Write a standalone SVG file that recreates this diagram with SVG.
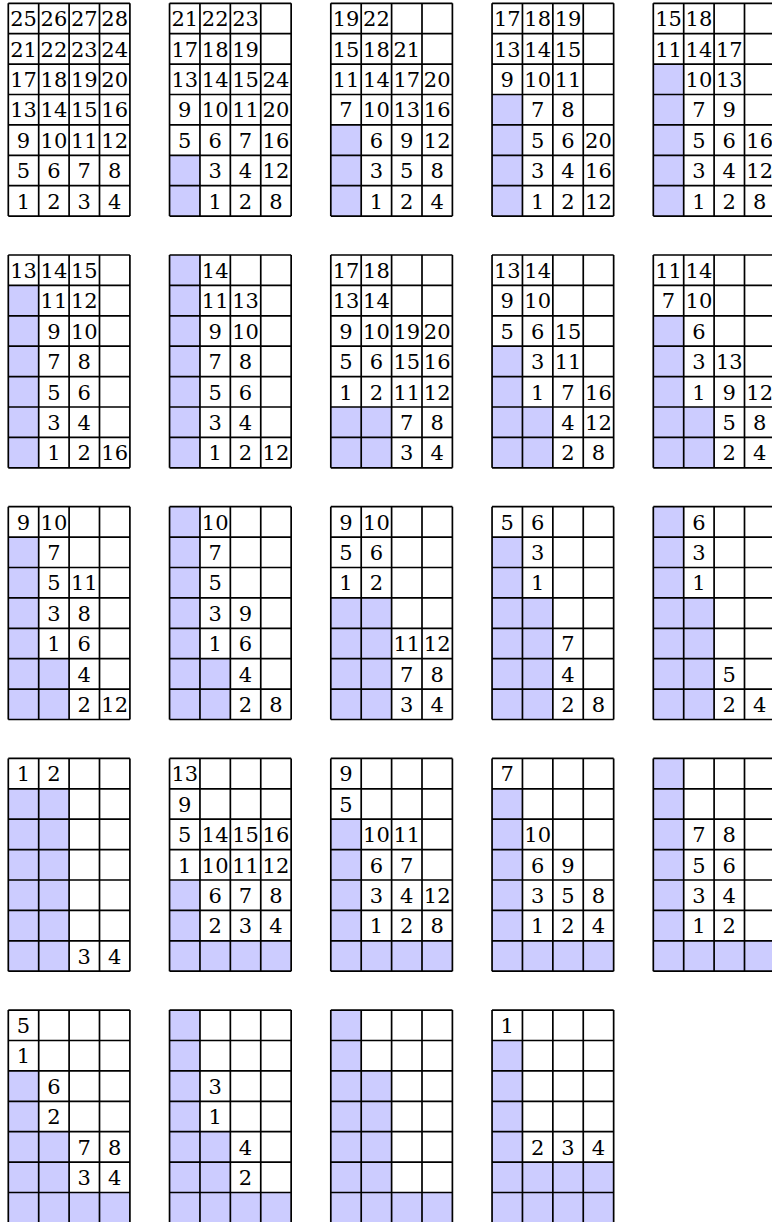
<svg xmlns="http://www.w3.org/2000/svg" xmlns:xlink="http://www.w3.org/1999/xlink" width="772" height="1222" viewBox="0 0 772 1222" font-family="DejaVu Serif, serif" font-size="21">
<style>
.s{fill:#ccccff;stroke:none}
.g{fill:none;stroke:#000;stroke-width:1.7}
.t text{font-family:'DejaVu Serif',serif;font-size:21px;text-anchor:middle;fill:#000}
</style>
<defs>
<path id="grid" class="g" d="M0 0V212.8M30.4 0V212.8M60.8 0V212.8M91.2 0V212.8M121.6 0V212.8M0 0H121.6M0 30.4H121.6M0 60.8H121.6M0 91.2H121.6M0 121.6H121.6M0 152H121.6M0 182.4H121.6M0 212.8H121.6"/>
</defs>
<rect width="772" height="1222" fill="#fff"/>
<g class="t">
<g id="g1" transform="translate(8.3,3.3)">
<use xlink:href="#grid"/>
<text x="15.2" y="23">25</text><text x="45.6" y="23">26</text><text x="76" y="23">27</text><text x="106.4" y="23">28</text>
<text x="15.2" y="53.4">21</text><text x="45.6" y="53.4">22</text><text x="76" y="53.4">23</text><text x="106.4" y="53.4">24</text>
<text x="15.2" y="83.8">17</text><text x="45.6" y="83.8">18</text><text x="76" y="83.8">19</text><text x="106.4" y="83.8">20</text>
<text x="15.2" y="114.2">13</text><text x="45.6" y="114.2">14</text><text x="76" y="114.2">15</text><text x="106.4" y="114.2">16</text>
<text x="15.2" y="144.6">9</text><text x="45.6" y="144.6">10</text><text x="76" y="144.6">11</text><text x="106.4" y="144.6">12</text>
<text x="15.2" y="175">5</text><text x="45.6" y="175">6</text><text x="76" y="175">7</text><text x="106.4" y="175">8</text>
<text x="15.2" y="205.4">1</text><text x="45.6" y="205.4">2</text><text x="76" y="205.4">3</text><text x="106.4" y="205.4">4</text>
</g>
<g id="g2" transform="translate(169.55,3.3)">
<rect class="s" x="0" y="152" width="30.4" height="60.8"/>
<use xlink:href="#grid"/>
<text x="15.2" y="23">21</text><text x="45.6" y="23">22</text><text x="76" y="23">23</text>
<text x="15.2" y="53.4">17</text><text x="45.6" y="53.4">18</text><text x="76" y="53.4">19</text>
<text x="15.2" y="83.8">13</text><text x="45.6" y="83.8">14</text><text x="76" y="83.8">15</text><text x="106.4" y="83.8">24</text>
<text x="15.2" y="114.2">9</text><text x="45.6" y="114.2">10</text><text x="76" y="114.2">11</text><text x="106.4" y="114.2">20</text>
<text x="15.2" y="144.6">5</text><text x="45.6" y="144.6">6</text><text x="76" y="144.6">7</text><text x="106.4" y="144.6">16</text>
<text x="45.6" y="175">3</text><text x="76" y="175">4</text><text x="106.4" y="175">12</text>
<text x="45.6" y="205.4">1</text><text x="76" y="205.4">2</text><text x="106.4" y="205.4">8</text>
</g>
<g id="g3" transform="translate(330.8,3.3)">
<rect class="s" x="0" y="121.6" width="30.4" height="91.2"/>
<use xlink:href="#grid"/>
<text x="15.2" y="23">19</text><text x="45.6" y="23">22</text>
<text x="15.2" y="53.4">15</text><text x="45.6" y="53.4">18</text><text x="76" y="53.4">21</text>
<text x="15.2" y="83.8">11</text><text x="45.6" y="83.8">14</text><text x="76" y="83.8">17</text><text x="106.4" y="83.8">20</text>
<text x="15.2" y="114.2">7</text><text x="45.6" y="114.2">10</text><text x="76" y="114.2">13</text><text x="106.4" y="114.2">16</text>
<text x="45.6" y="144.6">6</text><text x="76" y="144.6">9</text><text x="106.4" y="144.6">12</text>
<text x="45.6" y="175">3</text><text x="76" y="175">5</text><text x="106.4" y="175">8</text>
<text x="45.6" y="205.4">1</text><text x="76" y="205.4">2</text><text x="106.4" y="205.4">4</text>
</g>
<g id="g4" transform="translate(492.05,3.3)">
<rect class="s" x="0" y="91.2" width="30.4" height="121.6"/>
<use xlink:href="#grid"/>
<text x="15.2" y="23">17</text><text x="45.6" y="23">18</text><text x="76" y="23">19</text>
<text x="15.2" y="53.4">13</text><text x="45.6" y="53.4">14</text><text x="76" y="53.4">15</text>
<text x="15.2" y="83.8">9</text><text x="45.6" y="83.8">10</text><text x="76" y="83.8">11</text>
<text x="45.6" y="114.2">7</text><text x="76" y="114.2">8</text>
<text x="45.6" y="144.6">5</text><text x="76" y="144.6">6</text><text x="106.4" y="144.6">20</text>
<text x="45.6" y="175">3</text><text x="76" y="175">4</text><text x="106.4" y="175">16</text>
<text x="45.6" y="205.4">1</text><text x="76" y="205.4">2</text><text x="106.4" y="205.4">12</text>
</g>
<g id="g5" transform="translate(653.3,3.3)">
<rect class="s" x="0" y="60.8" width="30.4" height="152"/>
<use xlink:href="#grid"/>
<text x="15.2" y="23">15</text><text x="45.6" y="23">18</text>
<text x="15.2" y="53.4">11</text><text x="45.6" y="53.4">14</text><text x="76" y="53.4">17</text>
<text x="45.6" y="83.8">10</text><text x="76" y="83.8">13</text>
<text x="45.6" y="114.2">7</text><text x="76" y="114.2">9</text>
<text x="45.6" y="144.6">5</text><text x="76" y="144.6">6</text><text x="106.4" y="144.6">16</text>
<text x="45.6" y="175">3</text><text x="76" y="175">4</text><text x="106.4" y="175">12</text>
<text x="45.6" y="205.4">1</text><text x="76" y="205.4">2</text><text x="106.4" y="205.4">8</text>
</g>
<g id="g6" transform="translate(8.3,255)">
<rect class="s" x="0" y="30.4" width="30.4" height="182.4"/>
<use xlink:href="#grid"/>
<text x="15.2" y="23">13</text><text x="45.6" y="23">14</text><text x="76" y="23">15</text>
<text x="45.6" y="53.4">11</text><text x="76" y="53.4">12</text>
<text x="45.6" y="83.8">9</text><text x="76" y="83.8">10</text>
<text x="45.6" y="114.2">7</text><text x="76" y="114.2">8</text>
<text x="45.6" y="144.6">5</text><text x="76" y="144.6">6</text>
<text x="45.6" y="175">3</text><text x="76" y="175">4</text>
<text x="45.6" y="205.4">1</text><text x="76" y="205.4">2</text><text x="106.4" y="205.4">16</text>
</g>
<g id="g7" transform="translate(169.55,255)">
<rect class="s" x="0" y="0" width="30.4" height="212.8"/>
<use xlink:href="#grid"/>
<text x="45.6" y="23">14</text>
<text x="45.6" y="53.4">11</text><text x="76" y="53.4">13</text>
<text x="45.6" y="83.8">9</text><text x="76" y="83.8">10</text>
<text x="45.6" y="114.2">7</text><text x="76" y="114.2">8</text>
<text x="45.6" y="144.6">5</text><text x="76" y="144.6">6</text>
<text x="45.6" y="175">3</text><text x="76" y="175">4</text>
<text x="45.6" y="205.4">1</text><text x="76" y="205.4">2</text><text x="106.4" y="205.4">12</text>
</g>
<g id="g8" transform="translate(330.8,255)">
<rect class="s" x="0" y="152" width="60.8" height="60.8"/>
<use xlink:href="#grid"/>
<text x="15.2" y="23">17</text><text x="45.6" y="23">18</text>
<text x="15.2" y="53.4">13</text><text x="45.6" y="53.4">14</text>
<text x="15.2" y="83.8">9</text><text x="45.6" y="83.8">10</text><text x="76" y="83.8">19</text><text x="106.4" y="83.8">20</text>
<text x="15.2" y="114.2">5</text><text x="45.6" y="114.2">6</text><text x="76" y="114.2">15</text><text x="106.4" y="114.2">16</text>
<text x="15.2" y="144.6">1</text><text x="45.6" y="144.6">2</text><text x="76" y="144.6">11</text><text x="106.4" y="144.6">12</text>
<text x="76" y="175">7</text><text x="106.4" y="175">8</text>
<text x="76" y="205.4">3</text><text x="106.4" y="205.4">4</text>
</g>
<g id="g9" transform="translate(492.05,255)">
<rect class="s" x="0" y="91.2" width="30.4" height="121.6"/>
<rect class="s" x="30.4" y="152" width="30.4" height="60.8"/>
<use xlink:href="#grid"/>
<text x="15.2" y="23">13</text><text x="45.6" y="23">14</text>
<text x="15.2" y="53.4">9</text><text x="45.6" y="53.4">10</text>
<text x="15.2" y="83.8">5</text><text x="45.6" y="83.8">6</text><text x="76" y="83.8">15</text>
<text x="45.6" y="114.2">3</text><text x="76" y="114.2">11</text>
<text x="45.6" y="144.6">1</text><text x="76" y="144.6">7</text><text x="106.4" y="144.6">16</text>
<text x="76" y="175">4</text><text x="106.4" y="175">12</text>
<text x="76" y="205.4">2</text><text x="106.4" y="205.4">8</text>
</g>
<g id="g10" transform="translate(653.3,255)">
<rect class="s" x="0" y="60.8" width="30.4" height="152"/>
<rect class="s" x="30.4" y="152" width="30.4" height="60.8"/>
<use xlink:href="#grid"/>
<text x="15.2" y="23">11</text><text x="45.6" y="23">14</text>
<text x="15.2" y="53.4">7</text><text x="45.6" y="53.4">10</text>
<text x="45.6" y="83.8">6</text>
<text x="45.6" y="114.2">3</text><text x="76" y="114.2">13</text>
<text x="45.6" y="144.6">1</text><text x="76" y="144.6">9</text><text x="106.4" y="144.6">12</text>
<text x="76" y="175">5</text><text x="106.4" y="175">8</text>
<text x="76" y="205.4">2</text><text x="106.4" y="205.4">4</text>
</g>
<g id="g11" transform="translate(8.3,506.7)">
<rect class="s" x="0" y="30.4" width="30.4" height="182.4"/>
<rect class="s" x="30.4" y="152" width="30.4" height="60.8"/>
<use xlink:href="#grid"/>
<text x="15.2" y="23">9</text><text x="45.6" y="23">10</text>
<text x="45.6" y="53.4">7</text>
<text x="45.6" y="83.8">5</text><text x="76" y="83.8">11</text>
<text x="45.6" y="114.2">3</text><text x="76" y="114.2">8</text>
<text x="45.6" y="144.6">1</text><text x="76" y="144.6">6</text>
<text x="76" y="175">4</text>
<text x="76" y="205.4">2</text><text x="106.4" y="205.4">12</text>
</g>
<g id="g12" transform="translate(169.55,506.7)">
<rect class="s" x="0" y="0" width="30.4" height="212.8"/>
<rect class="s" x="30.4" y="152" width="30.4" height="60.8"/>
<use xlink:href="#grid"/>
<text x="45.6" y="23">10</text>
<text x="45.6" y="53.4">7</text>
<text x="45.6" y="83.8">5</text>
<text x="45.6" y="114.2">3</text><text x="76" y="114.2">9</text>
<text x="45.6" y="144.6">1</text><text x="76" y="144.6">6</text>
<text x="76" y="175">4</text>
<text x="76" y="205.4">2</text><text x="106.4" y="205.4">8</text>
</g>
<g id="g13" transform="translate(330.8,506.7)">
<rect class="s" x="0" y="91.2" width="60.8" height="121.6"/>
<use xlink:href="#grid"/>
<text x="15.2" y="23">9</text><text x="45.6" y="23">10</text>
<text x="15.2" y="53.4">5</text><text x="45.6" y="53.4">6</text>
<text x="15.2" y="83.8">1</text><text x="45.6" y="83.8">2</text>
<text x="76" y="144.6">11</text><text x="106.4" y="144.6">12</text>
<text x="76" y="175">7</text><text x="106.4" y="175">8</text>
<text x="76" y="205.4">3</text><text x="106.4" y="205.4">4</text>
</g>
<g id="g14" transform="translate(492.05,506.7)">
<rect class="s" x="0" y="30.4" width="30.4" height="182.4"/>
<rect class="s" x="30.4" y="91.2" width="30.4" height="121.6"/>
<use xlink:href="#grid"/>
<text x="15.2" y="23">5</text><text x="45.6" y="23">6</text>
<text x="45.6" y="53.4">3</text>
<text x="45.6" y="83.8">1</text>
<text x="76" y="144.6">7</text>
<text x="76" y="175">4</text>
<text x="76" y="205.4">2</text><text x="106.4" y="205.4">8</text>
</g>
<g id="g15" transform="translate(653.3,506.7)">
<rect class="s" x="0" y="0" width="30.4" height="212.8"/>
<rect class="s" x="30.4" y="91.2" width="30.4" height="121.6"/>
<use xlink:href="#grid"/>
<text x="45.6" y="23">6</text>
<text x="45.6" y="53.4">3</text>
<text x="45.6" y="83.8">1</text>
<text x="76" y="175">5</text>
<text x="76" y="205.4">2</text><text x="106.4" y="205.4">4</text>
</g>
<g id="g16" transform="translate(8.3,758.4)">
<rect class="s" x="0" y="30.4" width="60.8" height="182.4"/>
<use xlink:href="#grid"/>
<text x="15.2" y="23">1</text><text x="45.6" y="23">2</text>
<text x="76" y="205.4">3</text><text x="106.4" y="205.4">4</text>
</g>
<g id="g17" transform="translate(169.55,758.4)">
<rect class="s" x="0" y="121.6" width="30.4" height="60.8"/>
<rect class="s" x="0" y="182.4" width="121.6" height="30.4"/>
<use xlink:href="#grid"/>
<text x="15.2" y="23">13</text>
<text x="15.2" y="53.4">9</text>
<text x="15.2" y="83.8">5</text><text x="45.6" y="83.8">14</text><text x="76" y="83.8">15</text><text x="106.4" y="83.8">16</text>
<text x="15.2" y="114.2">1</text><text x="45.6" y="114.2">10</text><text x="76" y="114.2">11</text><text x="106.4" y="114.2">12</text>
<text x="45.6" y="144.6">6</text><text x="76" y="144.6">7</text><text x="106.4" y="144.6">8</text>
<text x="45.6" y="175">2</text><text x="76" y="175">3</text><text x="106.4" y="175">4</text>
</g>
<g id="g18" transform="translate(330.8,758.4)">
<rect class="s" x="0" y="60.8" width="30.4" height="121.6"/>
<rect class="s" x="0" y="182.4" width="121.6" height="30.4"/>
<use xlink:href="#grid"/>
<text x="15.2" y="23">9</text>
<text x="15.2" y="53.4">5</text>
<text x="45.6" y="83.8">10</text><text x="76" y="83.8">11</text>
<text x="45.6" y="114.2">6</text><text x="76" y="114.2">7</text>
<text x="45.6" y="144.6">3</text><text x="76" y="144.6">4</text><text x="106.4" y="144.6">12</text>
<text x="45.6" y="175">1</text><text x="76" y="175">2</text><text x="106.4" y="175">8</text>
</g>
<g id="g19" transform="translate(492.05,758.4)">
<rect class="s" x="0" y="30.4" width="30.4" height="152"/>
<rect class="s" x="0" y="182.4" width="121.6" height="30.4"/>
<use xlink:href="#grid"/>
<text x="15.2" y="23">7</text>
<text x="45.6" y="83.8">10</text>
<text x="45.6" y="114.2">6</text><text x="76" y="114.2">9</text>
<text x="45.6" y="144.6">3</text><text x="76" y="144.6">5</text><text x="106.4" y="144.6">8</text>
<text x="45.6" y="175">1</text><text x="76" y="175">2</text><text x="106.4" y="175">4</text>
</g>
<g id="g20" transform="translate(653.3,758.4)">
<rect class="s" x="0" y="0" width="30.4" height="182.4"/>
<rect class="s" x="0" y="182.4" width="121.6" height="30.4"/>
<use xlink:href="#grid"/>
<text x="45.6" y="83.8">7</text><text x="76" y="83.8">8</text>
<text x="45.6" y="114.2">5</text><text x="76" y="114.2">6</text>
<text x="45.6" y="144.6">3</text><text x="76" y="144.6">4</text>
<text x="45.6" y="175">1</text><text x="76" y="175">2</text>
</g>
<g id="g21" transform="translate(8.3,1010.1)">
<rect class="s" x="0" y="60.8" width="30.4" height="121.6"/>
<rect class="s" x="30.4" y="121.6" width="30.4" height="60.8"/>
<rect class="s" x="0" y="182.4" width="121.6" height="30.4"/>
<use xlink:href="#grid"/>
<text x="15.2" y="23">5</text>
<text x="15.2" y="53.4">1</text>
<text x="45.6" y="83.8">6</text>
<text x="45.6" y="114.2">2</text>
<text x="76" y="144.6">7</text><text x="106.4" y="144.6">8</text>
<text x="76" y="175">3</text><text x="106.4" y="175">4</text>
</g>
<g id="g22" transform="translate(169.55,1010.1)">
<rect class="s" x="0" y="0" width="30.4" height="182.4"/>
<rect class="s" x="30.4" y="121.6" width="30.4" height="60.8"/>
<rect class="s" x="0" y="182.4" width="121.6" height="30.4"/>
<use xlink:href="#grid"/>
<text x="45.6" y="83.8">3</text>
<text x="45.6" y="114.2">1</text>
<text x="76" y="144.6">4</text>
<text x="76" y="175">2</text>
</g>
<g id="g23" transform="translate(330.8,1010.1)">
<rect class="s" x="0" y="0" width="30.4" height="182.4"/>
<rect class="s" x="30.4" y="60.8" width="30.4" height="121.6"/>
<rect class="s" x="0" y="182.4" width="121.6" height="30.4"/>
<use xlink:href="#grid"/>
</g>
<g id="g24" transform="translate(492.05,1010.1)">
<rect class="s" x="0" y="30.4" width="30.4" height="121.6"/>
<rect class="s" x="0" y="152" width="121.6" height="60.8"/>
<use xlink:href="#grid"/>
<text x="15.2" y="23">1</text>
<text x="45.6" y="144.6">2</text><text x="76" y="144.6">3</text><text x="106.4" y="144.6">4</text>
</g>
</g>
</svg>
